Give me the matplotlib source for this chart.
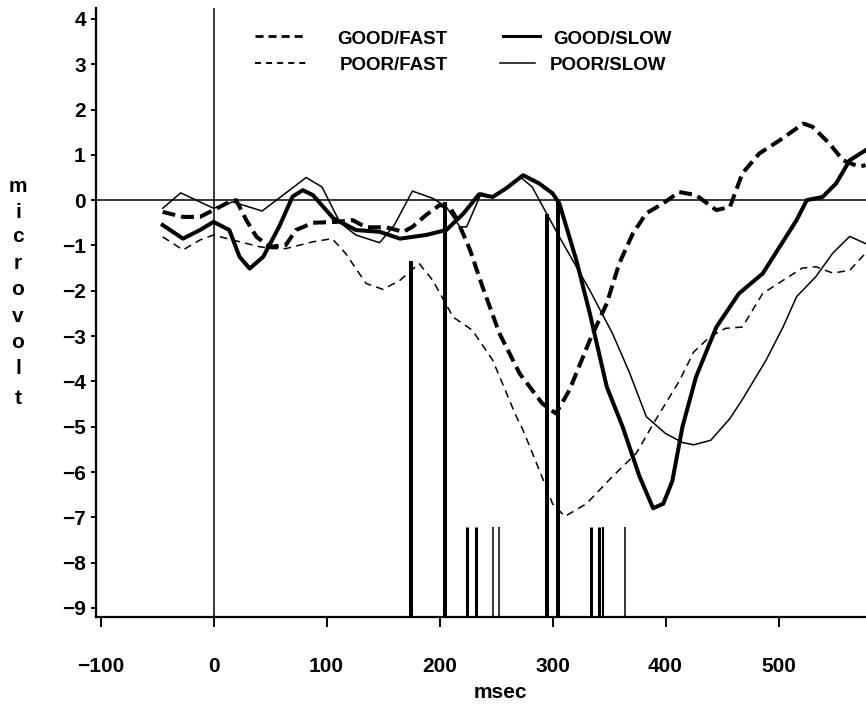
import matplotlib
matplotlib.use("Agg")
import matplotlib.pyplot as plt

plt.rcParams['font.family'] = ['Liberation Sans', 'DejaVu Sans']
plt.rcParams['font.weight'] = 'bold'

# ERP waveforms (msec, microvolt)
gf_t = [-45, -27, -12, 0, 14, 20, 29, 38, 50, 64, 73, 88, 109, 123, 135, 153, 168, 176,
        188, 200, 209, 215, 227, 238, 253, 271, 291, 303, 315, 333, 348, 359, 371, 383,
        398, 412, 427, 445, 457, 468, 483, 501, 522, 530, 545, 557, 571, 577]
gf_v = [-0.26, -0.37, -0.37, -0.22, -0.04, 0.0, -0.44, -0.81, -1.03, -0.99, -0.66, -0.50,
        -0.48, -0.44, -0.60, -0.60, -0.70, -0.59, -0.33, -0.11, -0.15, -0.40, -1.10, -1.91,
        -2.94, -3.83, -4.49, -4.71, -4.19, -3.09, -2.28, -1.40, -0.74, -0.29, -0.07, 0.18,
        0.11, -0.22, -0.15, 0.59, 1.03, 1.32, 1.69, 1.62, 1.25, 0.88, 0.74, 0.77]

gs_t = [-45, -27, -12, 0, 14, 23, 32, 44, 58, 70, 79, 88, 106, 126, 147, 165, 188, 206,
        221, 235, 247, 259, 274, 288, 300, 306, 321, 333, 348, 362, 377, 389, 398, 406,
        415, 427, 445, 465, 486, 501, 516, 525, 539, 551, 563, 577]
gs_v = [-0.55, -0.85, -0.66, -0.48, -0.66, -1.25, -1.51, -1.25, -0.59, 0.08, 0.22, 0.11,
        -0.40, -0.66, -0.70, -0.85, -0.77, -0.66, -0.30, 0.13, 0.07, 0.26, 0.55, 0.37,
        0.15, -0.07, -1.32, -2.50, -4.12, -5.00, -6.10, -6.80, -6.70, -6.20, -5.00, -3.90,
        -2.80, -2.06, -1.62, -1.03, -0.44, 0.0, 0.07, 0.37, 0.88, 1.10]

pf_t = [-45, -27, -12, 0, 17, 41, 52, 64, 88, 105, 117, 135, 150, 165, 182, 194, 212,
        229, 247, 268, 274, 293, 300, 311, 330, 353, 374, 390, 412, 425, 439, 453, 468,
        486, 504, 521, 533, 548, 563, 577]
pf_v = [-0.81, -1.10, -0.88, -0.77, -0.88, -1.03, -1.07, -1.07, -0.92, -0.85, -1.18,
        -1.84, -1.97, -1.77, -1.40, -1.77, -2.58, -2.87, -3.53, -4.78, -5.08, -6.25,
        -6.70, -6.98, -6.70, -6.10, -5.59, -4.90, -4.00, -3.35, -3.02, -2.83, -2.80,
        -2.06, -1.77, -1.50, -1.47, -1.61, -1.55, -1.17]

ps_t = [-45, -29, 0, 17, 43, 82, 96, 112, 126, 147, 160, 176, 194, 206, 218, 224, 237,
        247, 256, 272, 282, 306, 333, 353, 368, 383, 400, 415, 425, 440, 457, 468, 489,
        504, 516, 533, 548, 563, 577]
ps_v = [-0.18, 0.16, -0.18, -0.04, -0.24, 0.50, 0.29, -0.50, -0.77, -0.94, -0.55, 0.20,
        0.04, -0.15, -0.59, -0.59, 0.16, 0.07, 0.22, 0.50, 0.29, -0.81, -1.99, -2.94,
        -3.80, -4.78, -5.15, -5.35, -5.40, -5.30, -4.82, -4.40, -3.53, -2.80, -2.13,
        -1.69, -1.17, -0.80, -0.96]

# reaction-time markers
rt_ms = [175, 205, 224, 232, 247, 253, 295, 305, 334, 341, 345, 364]
rt_top = [-1.35, -0.05, -7.22, -7.22, -7.22, -7.22, -0.30, -0.05, -7.22, -7.22, -7.22, -7.22]
rt_lw = [2.9, 2.9, 2.2, 2.2, 1.1, 1.1, 2.9, 2.9, 2.2, 2.2, 1.5, 1.1]

xticks = [-100, 0, 100, 200, 300, 400, 500]
yticks = list(range(-9, 5))

fig = plt.figure(figsize=(8.66, 7.08), dpi=100)
ax = fig.add_axes([96 / 866, 1 - 617 / 708, 770 / 866, 609 / 708])
ymin, ymax = -9.2, 4.24
ax.set_xlim(-104, 577.4)
ax.set_ylim(ymin, ymax)

ax.axhline(0, color='black', lw=1.1)
ax.axvline(0, color='black', lw=1.1)

ax.plot(gf_t, gf_v, color='black', lw=2.9, ls=(0, (3.2, 1.5)))
ax.plot(gs_t, gs_v, color='black', lw=2.9, ls='-')
ax.plot(pf_t, pf_v, color='black', lw=1.1, ls=(0, (5, 3.5)))
ax.plot(ps_t, ps_v, color='black', lw=1.1, ls='-')

ax.vlines(rt_ms, ymin, rt_top, colors='black', linewidths=rt_lw)

# legend, drawn by hand
legend_rows = [
    ("GOOD/FAST", 2.0, (0, (2.9, 1.8)), 0.2065, 0.2688, 0.313, 0.954, 0.9409),
    ("POOR/FAST", 1.4, (0, (3.1, 2.6)), 0.2065, 0.2740, 0.317, 0.9097, 0.8974),
    ("GOOD/SLOW", 2.2, '-', 0.5286, 0.5766, 0.5935, 0.954, 0.9409),
    ("POOR/SLOW", 1.1, '-', 0.5247, 0.5700, 0.5896, 0.9097, 0.8974),
]
for name, lw, ls, x0, x1, xt, yl, yt in legend_rows:
    ax.plot([x0, x1], [yl, yl], transform=ax.transAxes, color='black', lw=lw, ls=ls,
            clip_on=False)
    ax.text(xt, yt, name, transform=ax.transAxes, fontsize=13.5, fontweight='bold',
            ha='left', va='baseline')

for s in ['top', 'right']:
    ax.spines[s].set_visible(False)
for s in ['left', 'bottom']:
    ax.spines[s].set_linewidth(1.6)

ax.set_xticks(xticks)
ax.set_yticks(yticks)
ax.tick_params(axis='x', direction='out', length=7.5, width=1.4, pad=21, labelsize=15)
ax.tick_params(axis='y', direction='out', length=3.8, width=1.4, pad=3.5, labelsize=15)
for lbl in ax.get_xticklabels() + ax.get_yticklabels():
    lbl.set_fontweight('bold')

# axis titles
fig.text(500 / 866, 1 - 692 / 708, "msec", ha='center', va='center', fontsize=15,
         fontweight='bold')
letter_y = [187, 212, 237, 263, 290, 316, 343, 368, 398]
for ch, py in zip("microvolt", letter_y):
    fig.text(18 / 866, 1 - py / 708, ch, ha='center', va='center', fontsize=15,
             fontweight='bold')

fig.savefig("out.png", dpi=100)
